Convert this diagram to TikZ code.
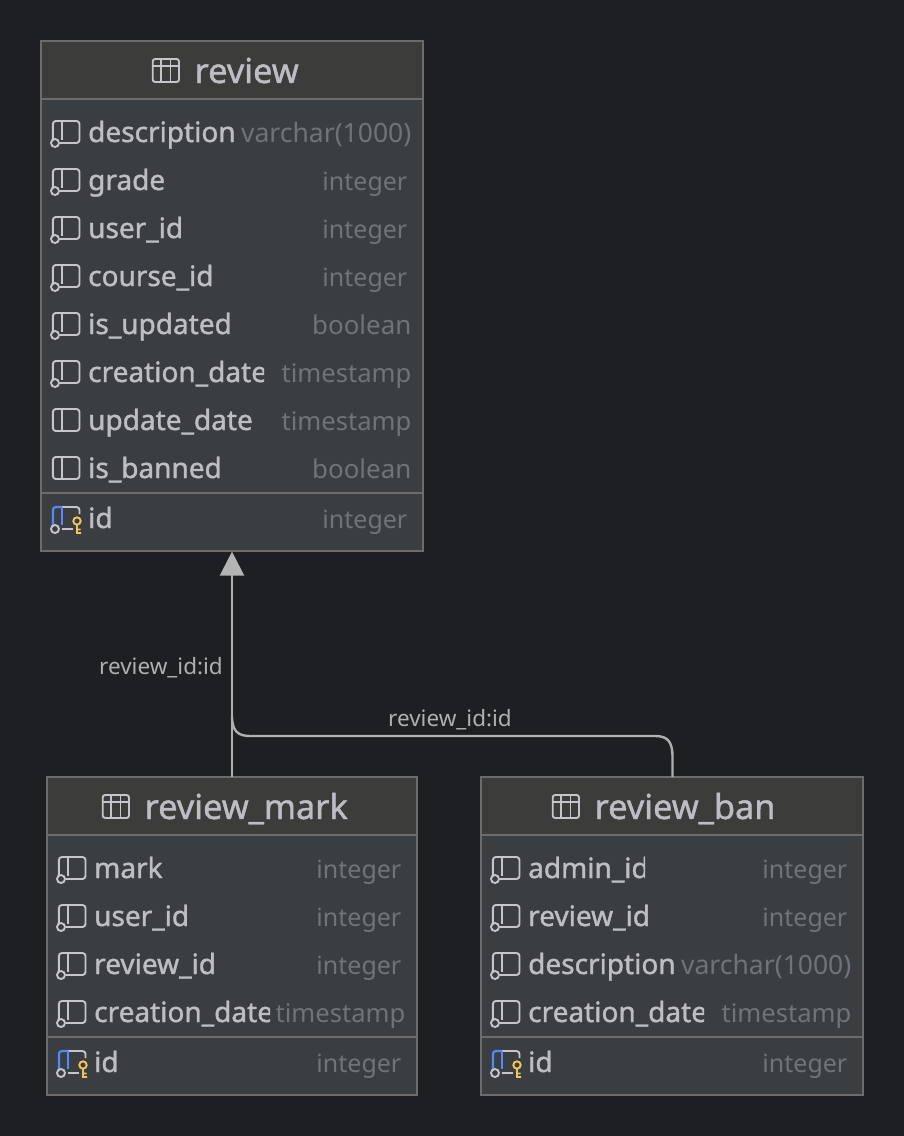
\documentclass[tikz,border=0pt]{standalone}
\usepackage{fontspec}
\usetikzlibrary{arrows.meta}
\setmainfont{Noto Sans}
\newfontfamily\fldfont[FakeBold=1.3]{Noto Sans}
\newfontfamily\ttlfont[FakeBold=1.2]{Noto Sans}
\definecolor{bgc}{HTML}{1E1F22}
\definecolor{headc}{HTML}{3C3C3B}
\definecolor{bodyc}{HTML}{3B3E41}
\definecolor{edgec}{HTML}{6C6C6C}
\definecolor{textc}{HTML}{BCBEC4}
\definecolor{typec}{HTML}{6F737A}
\definecolor{iconc}{HTML}{C4C6CC}
\definecolor{linec}{HTML}{B0B0B0}
\definecolor{tipc}{HTML}{B4B4B4}
\definecolor{keyc}{HTML}{F2C55C}
\definecolor{pkc}{HTML}{548AF7}
\newcommand{\tinteger}{\fontsize{25}{30}\selectfont integer}
\newcommand{\tvarchar}{\fontsize{26.5}{30}\selectfont varchar(1000)}
\newcommand{\tboolean}{\fontsize{25.9}{30}\selectfont boolean}
\tikzset{
  x=1pt,y=-1pt,
  tablebox/.style={draw=edgec,line width=1.2pt,fill=bodyc,inner sep=0pt,outer sep=0pt,anchor=north west},
  titletext/.style={font=\ttlfont\fontsize{34.3}{36}\selectfont,text=textc,anchor=base west,inner sep=0pt},
  fieldtext/.style={font=\fldfont\fontsize{28}{30}\selectfont,text=textc,anchor=base west,inner sep=0pt},
  typetext/.style={font=\fontsize{25.6}{30}\selectfont,text=typec,anchor=base east,inner sep=0pt},
  linklabel/.style={font=\fontsize{22.5}{26}\selectfont,text=linec,anchor=base west,inner sep=0pt},
  iconline/.style={draw=iconc,line width=1.9pt},
  linkline/.style={draw=linec,line width=2.4pt},
}
% #1 node name, #2 left, #3 top, #4 width, #5 height, #6 header bottom, #7 divider y
\newcommand{\tablebody}[7]{%
  \node[tablebox,minimum width=#4pt,minimum height=#5pt] (#1) at (#2,#3) {};
  \fill[headc] (#2+0.6,#3+0.6) rectangle (#2+#4-0.6,#6);
  \draw[edgec,line width=1.6pt] (#2,#6) -- (#2+#4,#6);
  \draw[edgec,line width=1.6pt] (#2,#7) -- (#2+#4,#7);
}
% #1 name, #2 text, #3 icon left, #4 text left, #5 baseline
\newcommand{\tabletitle}[5]{%
  \begin{scope}[shift={(#3,#5-24)}]
    \draw[iconline,rounded corners=2.5pt] (0.7,0) rectangle (27,23);
    \draw[iconline] (0.7,7) -- (27,7) (9,0) -- (9,23) (18.5,0) -- (18.5,23);
  \end{scope}
  \node[titletext] (#1) at (#4,#5) {#2};
}
% #1 icon left, #2 row centre y, #3 kind: o,n,k
\newcommand{\fldicon}[3]{%
  \begin{scope}[shift={(#1,#2)}]
  \ifx#3n
    \draw[iconline,rounded corners=3pt] (0.9,-11) rectangle (27.5,11);
    \draw[iconline] (9.7,-11) -- (9.7,11);
  \fi
  \ifx#3o
    \draw[iconline,rounded corners=3pt] (8,11) -- (27.5,11) -- (27.5,-11) -- (0.9,-11) -- (0.9,8);
    \draw[iconline] (9.7,-11) -- (9.7,8);
    \draw[iconline,fill=bodyc] (3,11) circle[radius=4];
  \fi
  \ifx#3k
    \draw[iconline] (9.7,11) -- (20.5,11);
    \draw[iconline,rounded corners=3pt] (9.7,-11) -- (27.5,-11) -- (27.5,-4);
    \draw[pkc,line width=2.2pt,rounded corners=3pt] (0.9,7) -- (0.9,-11) -- (9.7,-11);
    \draw[pkc,line width=2.2pt] (9.7,-11) -- (9.7,7);
    \draw[iconline,fill=bodyc] (3,11) circle[radius=4];
    \draw[keyc,line width=1.9pt] (25,3) circle[radius=3.7] (25,6.7) -- (25,15) -- (29,15) (25,11.5) -- (28.5,11.5);
  \fi
  \end{scope}
}
% #1 node prefix, #2 icon left, #3 row centre, #4 kind, #5 text, #6 clip x, #7 type, #8 type right
\newcommand{\fld}[8]{%
  \fldicon{#2}{#3}{#4}
  \begin{scope}
    \clip (#2+30,#3-24) rectangle (#6,#3+24);
    \node[fieldtext] (#1-name) at (#2+36,#3+10) {#5};
  \end{scope}
  \node[typetext] (#1-type) at (#8,#3+10) {#7};
}
\begin{document}
\begin{tikzpicture}
\useasboundingbox[fill=bgc] (0,0) rectangle (904,1136);
\tablebody{review}{41}{41}{382}{510}{99}{493}
\tabletitle{reviewtitle}{review}{152}{194.5}{83}
\fld{ra}{52}{132}{o}{description}{235}{\tvarchar}{411.5}
\fld{rb}{52}{180}{o}{grade}{300}{\tinteger}{407.5}
\fld{rc}{52}{228}{o}{user\_id}{300}{\tinteger}{407.5}
\fld{rd}{52}{276}{o}{course\_id}{300}{\tinteger}{407.5}
\fld{re}{52}{324}{o}{is\_updated}{300}{\tboolean}{411.5}
\fld{rf}{52}{372}{o}{creation\_date}{264}{timestamp}{411.5}
\fld{rg}{52}{420}{n}{update\_date}{270}{timestamp}{411.5}
\fld{rh}{52}{468}{n}{is\_banned}{300}{\tboolean}{411.5}
\fld{ri}{52}{518}{k}{id}{300}{\tinteger}{407.5}
\tablebody{mark}{47}{777}{370}{318}{835}{1037}
\tabletitle{marktitle}{review\_mark}{102}{144.5}{819}
\fld{ma}{58}{868}{o}{mark}{300}{\tinteger}{401.5}
\fld{mb}{58}{916}{o}{user\_id}{300}{\tinteger}{401.5}
\fld{mc}{58}{964}{o}{review\_id}{300}{\tinteger}{401.5}
\fld{md}{58}{1012}{o}{creation\_date}{270}{timestamp}{405.5}
\fld{me}{58}{1062}{k}{id}{300}{\tinteger}{401.5}
\tablebody{ban}{481}{777}{382}{318}{835}{1037}
\tabletitle{bantitle}{review\_ban}{552}{594.5}{819}
\fld{ba}{492}{868}{o}{admin\_id}{645}{\tinteger}{847.5}
\fld{bb}{492}{916}{o}{review\_id}{740}{\tinteger}{847.5}
\fld{bc}{492}{964}{o}{description}{675}{\tvarchar}{851.5}
\fld{bd}{492}{1012}{o}{creation\_date}{704}{timestamp}{851.5}
\fld{be}{492}{1062}{k}{id}{740}{\tinteger}{847.5}
\draw[linkline,-{Triangle[length=24pt,width=24pt,color=tipc]}] (mark.north) -- ([yshift=-0.6pt]review.south);
\draw[linkline] ([xshift=0.5pt]ban.north) -- (672.5,757) .. controls (672.5,742) and (668,736) .. (655,736) -- (250,736) .. controls (238,736) and (232,731) .. (232,716);
\node[linklabel] (labela) at (99,674) {review\_id:id};
\node[linklabel] (labelb) at (388,726) {review\_id:id};
\end{tikzpicture}
\end{document}
